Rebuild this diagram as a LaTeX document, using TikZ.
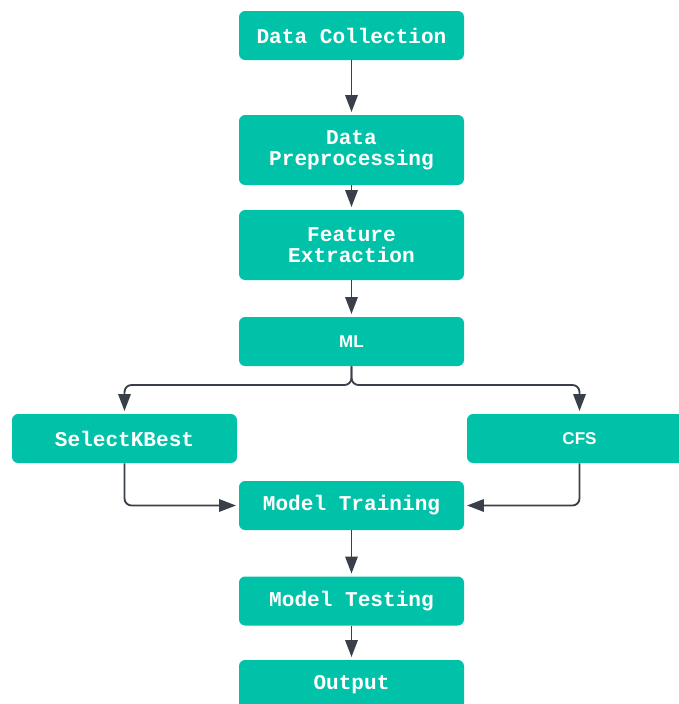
\documentclass[tikz,border=0pt]{standalone}
\usepackage{fontspec}
\usetikzlibrary{arrows.meta}
\newfontfamily\stagefont{Liberation Mono}
\newfontfamily\stagesans{Liberation Sans}
\definecolor{stageteal}{RGB}{0,194,168}
\definecolor{flowgrey}{RGB}{58,64,73}

\begin{document}
\begin{tikzpicture}[
    stage/.style={fill=stageteal, rounded corners=3.5pt, minimum width=4.5cm, minimum height=0.98cm,
        inner sep=0pt, text=white, align=center, font=\stagefont\bfseries\fontsize{12}{12}\selectfont},
    tall/.style={minimum height=1.4cm, execute at begin node={\rule{0pt}{11.5pt}}},
    plain/.style={font=\stagesans\bfseries\fontsize{9.7}{11}\selectfont},
    flow/.style={draw=flowgrey, line width=1.05pt, -{Triangle[length=0.34cm,width=0.25cm]},
        shorten >=1.5pt, rounded corners=4pt}
]

\useasboundingbox (0,0) rectangle (13.58,-14.08);

\node[stage] (collect) at (7.03,-0.71) {Data Collection};
\node[stage, tall] (prep) at (7.03,-3.0) {Data\\Preprocessing};
\node[stage, tall] (feat) at (7.03,-4.9) {Feature\\Extraction};
\node[stage, plain] (ml) at (7.03,-6.83) {ML};
\node[stage] (kbest) at (2.49,-8.77) {SelectKBest};
\node[stage, plain] (cfs) at (11.59,-8.77) {CFS};
\node[stage] (train) at (7.03,-10.11) {Model Training};
\node[stage] (test) at (7.03,-12.02) {Model Testing};
\node[stage] (out) at (7.03,-13.69) {Output};

\coordinate (split) at (7.03,-7.7);

\draw[flow] (collect) -- (prep);
\draw[flow] (prep) -- (feat);
\draw[flow] (feat) -- (ml);
\draw[flow] (ml.south) -- (split) -| (kbest.north);
\draw[flow] (ml.south) -- (split) -| (cfs.north);
\draw[flow] (kbest.south) |- (train.west);
\draw[flow] (cfs.south) |- (train.east);
\draw[flow] (train) -- (test);
\draw[flow] (test) -- (out);

\end{tikzpicture}
\end{document}
